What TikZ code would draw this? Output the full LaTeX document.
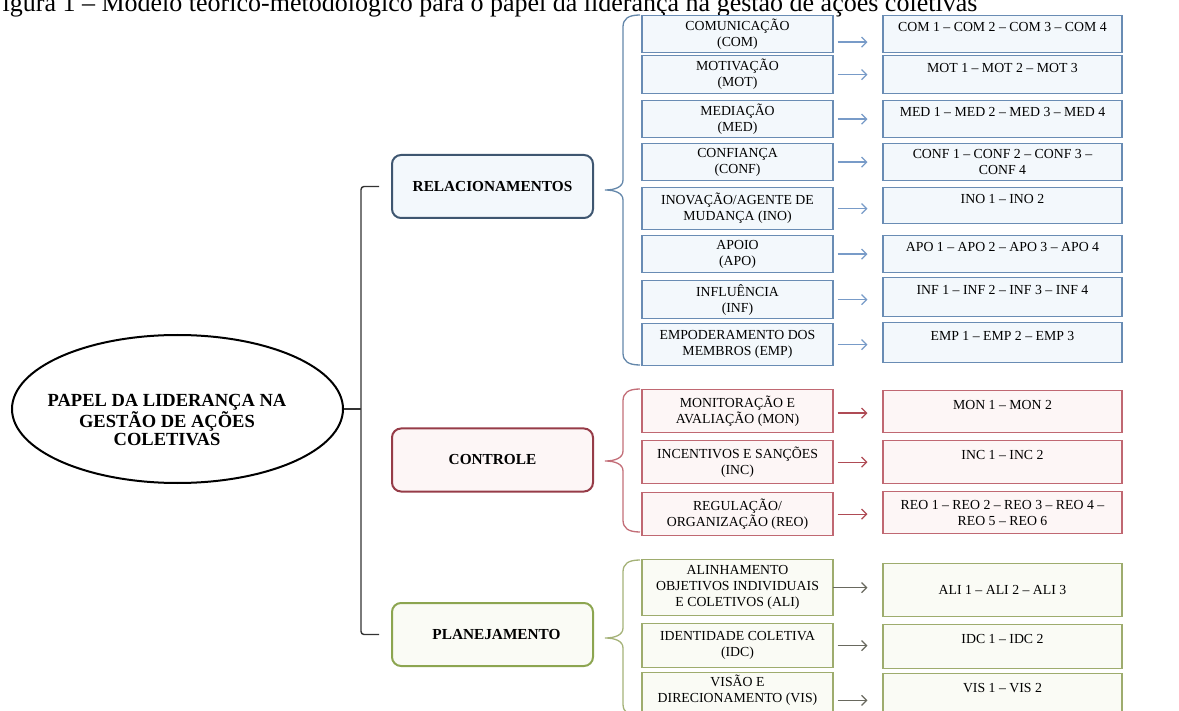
\documentclass[tikz,border=0pt]{standalone}
\usepackage{fontspec}
\setmainfont{Liberation Serif}
\usetikzlibrary{shapes.geometric,arrows.meta,calc}

\definecolor{blueline}{RGB}{105,140,180}
\definecolor{bluefill}{RGB}{243,248,252}
\definecolor{bluearrow}{RGB}{120,155,200}
\definecolor{bluebrace}{RGB}{100,135,170}
\definecolor{bluecat}{RGB}{62,86,112}
\definecolor{redline}{RGB}{192,104,114}
\definecolor{redfill}{RGB}{253,246,246}
\definecolor{redarrow}{RGB}{175,75,85}
\definecolor{redbrace}{RGB}{195,110,120}
\definecolor{redcat}{RGB}{150,60,72}
\definecolor{greenline}{RGB}{158,172,110}
\definecolor{greenfill}{RGB}{250,251,245}
\definecolor{greenarrow}{RGB}{105,105,95}
\definecolor{greenbrace}{RGB}{165,178,120}
\definecolor{greencat}{RGB}{140,165,80}

\newcommand\itemfont{\fontsize{13.8}{16}\selectfont}
\newcommand\catfont{\fontsize{15.3}{18}\selectfont\bfseries}
\newcommand\rootfont{\fontsize{18.5}{18}\selectfont\bfseries}
\newcommand\titlefont{\fontsize{26}{30}\selectfont}

\tikzset{
  subbox/.style={draw=#1line,fill=#1fill,line width=1.2pt,minimum width=191pt,inner sep=2pt,align=center,font=\itemfont,anchor=north},
  listbox/.style={draw=#1line,fill=#1fill,line width=1.2pt,minimum width=239pt,inner sep=2pt,align=center,font=\itemfont,anchor=north},
  catbox/.style={draw=#1cat,fill=#1fill,line width=2pt,rounded corners=9pt,minimum width=201pt,minimum height=63pt,font=\catfont},
  toptext/.style={text depth=14pt},
  link/.style={#1arrow,line width=1.2pt,-{Straight Barb[length=5pt,width=10pt]},shorten <=4pt,shorten >=15pt},
  brace/.style={#1brace,line width=1.3pt},
}

\begin{document}
\begin{tikzpicture}[x=1pt,y=-1pt]
        \useasboundingbox (0,0) rectangle (1179,711);
        \clip (0,0) rectangle (1179,711);
        % Title (cut at the top edge)
        \node[font=\titlefont,anchor=base west,inner sep=0pt](title) at (-12,12) {Figura 1 -- Modelo teórico-metodológico para o papel da liderança na gestão de ações coletivas};
        % Root
        \node[ellipse,draw,line width=2pt,minimum width=331pt,minimum height=148pt](root) at (177.5,409) {};
        \node[font=\rootfont,align=center](rootlabel) at (167,420) {PAPEL DA LIDERANÇA NA\\GESTÃO DE AÇÕES\\COLETIVAS};
        % Dimensions
        \node[catbox=blue](rel) at (492.5,186.5) {RELACIONAMENTOS};
        \node[catbox=red](ctrl) at (492.5,460) {CONTROLE};
        \node[catbox=green](plan) at (492.5,634.5) {\hspace{8pt}PLANEJAMENTO};
        \draw[black!80,line width=1.4pt,rounded corners=3pt]([xshift=-12pt]rel.west)-|($(root.east)+(17,0)$)|-([xshift=-12pt]plan.west);
        \draw[black!80,line width=1.4pt](root.east)--++(17,0);
        % Relacionamentos
        \node[subbox=blue,minimum height=37pt](com) at (737.5,15) {COMUNICAÇÃO\\(COM)};
        \node[subbox=blue,minimum height=38pt](mot) at (737.5,55) {MOTIVAÇÃO\\(MOT)};
        \node[subbox=blue,minimum height=37pt](med) at (737.5,100) {MEDIAÇÃO\\(MED)};
        \node[subbox=blue,minimum height=37pt](conf) at (737.5,143) {CONFIANÇA\\(CONF)};
        \node[subbox=blue,minimum height=42pt](ino) at (737.5,187) {INOVAÇÃO/AGENTE DE\\MUDANÇA (INO)};
        \node[subbox=blue,minimum height=37pt](apo) at (737.5,235) {APOIO\\(APO)};
        \node[subbox=blue,minimum height=38pt](inf) at (737.5,280) {INFLUÊNCIA\\(INF)};
        \node[subbox=blue,minimum height=42pt](emp) at (737.5,323) {EMPODERAMENTO DOS\\MEMBROS (EMP)};
        \node[listbox=blue,minimum height=37pt,toptext](comlist) at (1002.5,15) {COM 1 -- COM 2 -- COM 3 -- COM 4};
        \node[listbox=blue,minimum height=38pt,toptext](motlist) at (1002.5,55) {MOT 1 -- MOT 2 -- MOT 3};
        \node[listbox=blue,minimum height=37pt,toptext](medlist) at (1002.5,100) {MED 1 -- MED 2 -- MED 3 -- MED 4};
        \node[listbox=blue,minimum height=37pt](conflist) at (1002.5,143) {CONF 1 -- CONF 2 -- CONF 3 --\\CONF 4};
        \node[listbox=blue,minimum height=36pt,toptext](inolist) at (1002.5,187) {INO 1 -- INO 2};
        \node[listbox=blue,minimum height=37pt,toptext](apolist) at (1002.5,235) {APO 1 -- APO 2 -- APO 3 -- APO 4};
        \node[listbox=blue,minimum height=39pt,toptext](inflist) at (1002.5,277) {INF 1 -- INF 2 -- INF 3 -- INF 4};
        \node[listbox=blue,minimum height=40pt,toptext](emplist) at (1002.5,322) {EMP 1 -- EMP 2 -- EMP 3};
        \draw[link=blue]([yshift=-8pt]com.east)--([yshift=-8pt]comlist.west);
        \draw[link=blue](mot.east)--(motlist.west);
        \draw[link=blue](med.east)--(medlist.west);
        \draw[link=blue](conf.east)--(conflist.west);
        \draw[link=blue](ino.east)--(ino.east-|inolist.west);
        \draw[link=blue](apo.east)--(apolist.west);
        \draw[link=blue](inf.east)--(inf.east-|inflist.west);
        \draw[link=blue](emp.east)--(emp.east-|emplist.west);
        \draw[brace=blue](640,15)..controls(628,15)and(623,19)..(623,27)--(623,180)..controls(623,187)and(615,190)..(605,190)..controls(615,190)and(623,193)..(623,200)--(623,353)..controls(623,361)and(628,365)..(640,365);
        % Controle
        \node[subbox=red,minimum height=43pt](mon) at (737.5,389) {MONITORAÇÃO E\\AVALIAÇÃO (MON)};
        \node[subbox=red,minimum height=43pt](inc) at (737.5,440) {INCENTIVOS E SANÇÕES\\(INC)};
        \node[subbox=red,minimum height=43pt](reo) at (737.5,492) {REGULAÇÃO/\\ORGANIZAÇÃO (REO)};
        \node[listbox=red,minimum height=42pt,toptext](monlist) at (1002.5,390) {MON 1 -- MON 2};
        \node[listbox=red,minimum height=43pt,toptext](inclist) at (1002.5,440) {INC 1 -- INC 2};
        \node[listbox=red,minimum height=42pt](reolist) at (1002.5,491) {REO 1 -- REO 2 -- REO 3 -- REO 4 --\\REO 5 -- REO 6};
        \draw[link=red]([yshift=-2pt]mon.east)--([yshift=-2pt]mon.east-|monlist.west);
        \draw[link=red](inc.east)--(inclist.west);
        \draw[link=red](reo.east)--(reo.east-|reolist.west);
        \draw[brace=red](640,389)..controls(628,389)and(623,393)..(623,401)--(623,451)..controls(623,458)and(615,461)..(605,461)..controls(615,461)and(623,464)..(623,471)--(623,520)..controls(623,528)and(628,532)..(640,532);
        % Planejamento
        \node[subbox=green,minimum height=56pt](ali) at (737.5,559) {ALINHAMENTO\\OBJETIVOS INDIVIDUAIS\\E COLETIVOS (ALI)};
        \node[subbox=green,minimum height=44pt](idc) at (737.5,623) {IDENTIDADE COLETIVA\\(IDC)};
        \node[subbox=green,minimum height=48pt,text depth=18pt](vis) at (737.5,672) {VISÃO E\\DIRECIONAMENTO (VIS)};
        \node[listbox=green,minimum height=53pt](alilist) at (1002.5,563) {ALI 1 -- ALI 2 -- ALI 3};
        \node[listbox=green,minimum height=44pt,text depth=16pt](idclist) at (1002.5,624) {IDC 1 -- IDC 2};
        \node[listbox=green,minimum height=48pt,text depth=19pt](vislist) at (1002.5,673) {VIS 1 -- VIS 2};
        \draw[link=green,shorten <=-1pt](ali.east)--(ali.east-|alilist.west);
        \draw[link=green](idc.east)--(idc.east-|idclist.west);
        \draw[link=green]([yshift=-3pt]vis.east)--([yshift=-3pt]vis.east-|vislist.west);
        \draw[brace=green](640,560)..controls(628,560)and(623,564)..(623,572)--(623,628)..controls(623,635)and(615,638)..(605,638)..controls(615,638)and(623,641)..(623,648)--(623,704)..controls(623,712)and(628,716)..(640,716);
\end{tikzpicture}
\end{document}
